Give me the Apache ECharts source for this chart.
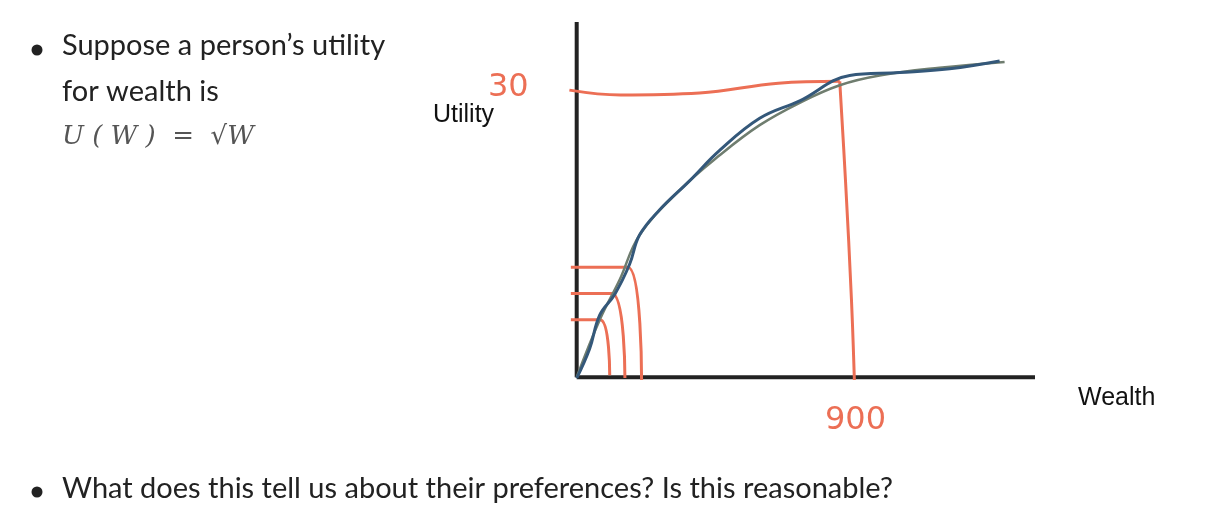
<!DOCTYPE html>
<html><head><meta charset="utf-8">
<script src="https://cdn.jsdelivr.net/npm/echarts@6/dist/echarts.min.js"></script>
<style>html,body{margin:0;background:#fff}#c{width:1208px;height:528px}</style></head>
<body><div id="c"></div>
<script>
const grayCurve=[[0,0],[79,5.9],[147,10],[215,14.6],[352,19.2],[489,22.8],[626,25.9],[763,28.2],[900,30],[1036,31],[1241,31.8],[1464,32.4]];
const blueCurve=[[0,-0.1],[44,2.9],[79,6.4],[130,8.5],[181,11.6],[215,14.6],[284,17.2],[387,20.2],[489,23.3],[626,26.6],[763,28.4],[934,31],[1105,31.3],[1276,31.7],[1447,32.5]];
const orange30=[[-25,29.5],[150,29],[420,29.2],[690,30.2],[900,30.4]];
const orange900=[[900,30.4],[920,20],[940,8],[950,-0.3]];
const orangeA=[[-20,11.3],[175,11.3],[222,-0.3]];
const orangeB=[[-20,8.6],[120,8.6],[165,-0.1]];
const orangeC=[[-20,5.9],[80,5.9],[113,0.2]];
const axisY=[[0,0],[0,36.5]];
const axisX=[[0,0],[1568,0]];
const c=echarts.init(document.getElementById('c'));
const ln=(d,col,w,z)=>({type:'line',data:d,smooth:0.4,symbol:'none',lineStyle:{color:col,width:w},z:z,silent:true});
const F='Lato, "Open Sans", sans-serif';
c.setOption({
 animation:false,
 grid:{left:565,top:22,width:470,height:360},
 xAxis:{type:'value',min:-40,max:1568,show:false},
 yAxis:{type:'value',min:-0.5,max:36.5,show:false},
 series:[ln(axisY,'#222',4,1),ln(axisX,'#222',4,1),
  ln(orange30,'#ec6f55',3,2),ln(orange900,'#ec6f55',3,2),ln(orangeA,'#ec6f55',3,2),ln(orangeB,'#ec6f55',3,2),ln(orangeC,'#ec6f55',3,2),
  ln(grayCurve,'#6f7d6f',2.5,3),ln(blueCurve,'#34587a',3,4)],
 graphic:[
  {type:'circle',shape:{cx:37,cy:50,r:5.5},style:{fill:'#222'}},
  {type:'text',left:62,top:31,style:{text:'Suppose a person’s utility',font:'29px '+F,fill:'#222'}},
  {type:'text',left:62,top:77,style:{text:'for wealth is',font:'29px '+F,fill:'#222'}},
  {type:'text',left:62,top:124,style:{text:'U ( W )  =  √W',font:'italic 26px "DejaVu Serif", serif',fill:'#555'}},
  {type:'circle',shape:{cx:37,cy:492,r:5.5},style:{fill:'#222'}},
  {type:'text',left:62,top:474,style:{text:'What does this tell us about their preferences? Is this reasonable?',font:'29px '+F,fill:'#222'}},
  {type:'text',left:433,top:103,style:{text:'Utility',font:'25px "Liberation Sans", Arial, sans-serif',fill:'#111'}},
  {type:'text',left:1078,top:386,style:{text:'Wealth',font:'25px "Liberation Sans", Arial, sans-serif',fill:'#111'}},
  {type:'text',left:488,top:72,style:{text:'30',font:'32px "DejaVu Sans", sans-serif',fill:'#ec6f55'}},
  {type:'text',left:825,top:405,style:{text:'900',font:'32px "DejaVu Sans", sans-serif',fill:'#ec6f55'}}
 ]
});
</script></body></html>
